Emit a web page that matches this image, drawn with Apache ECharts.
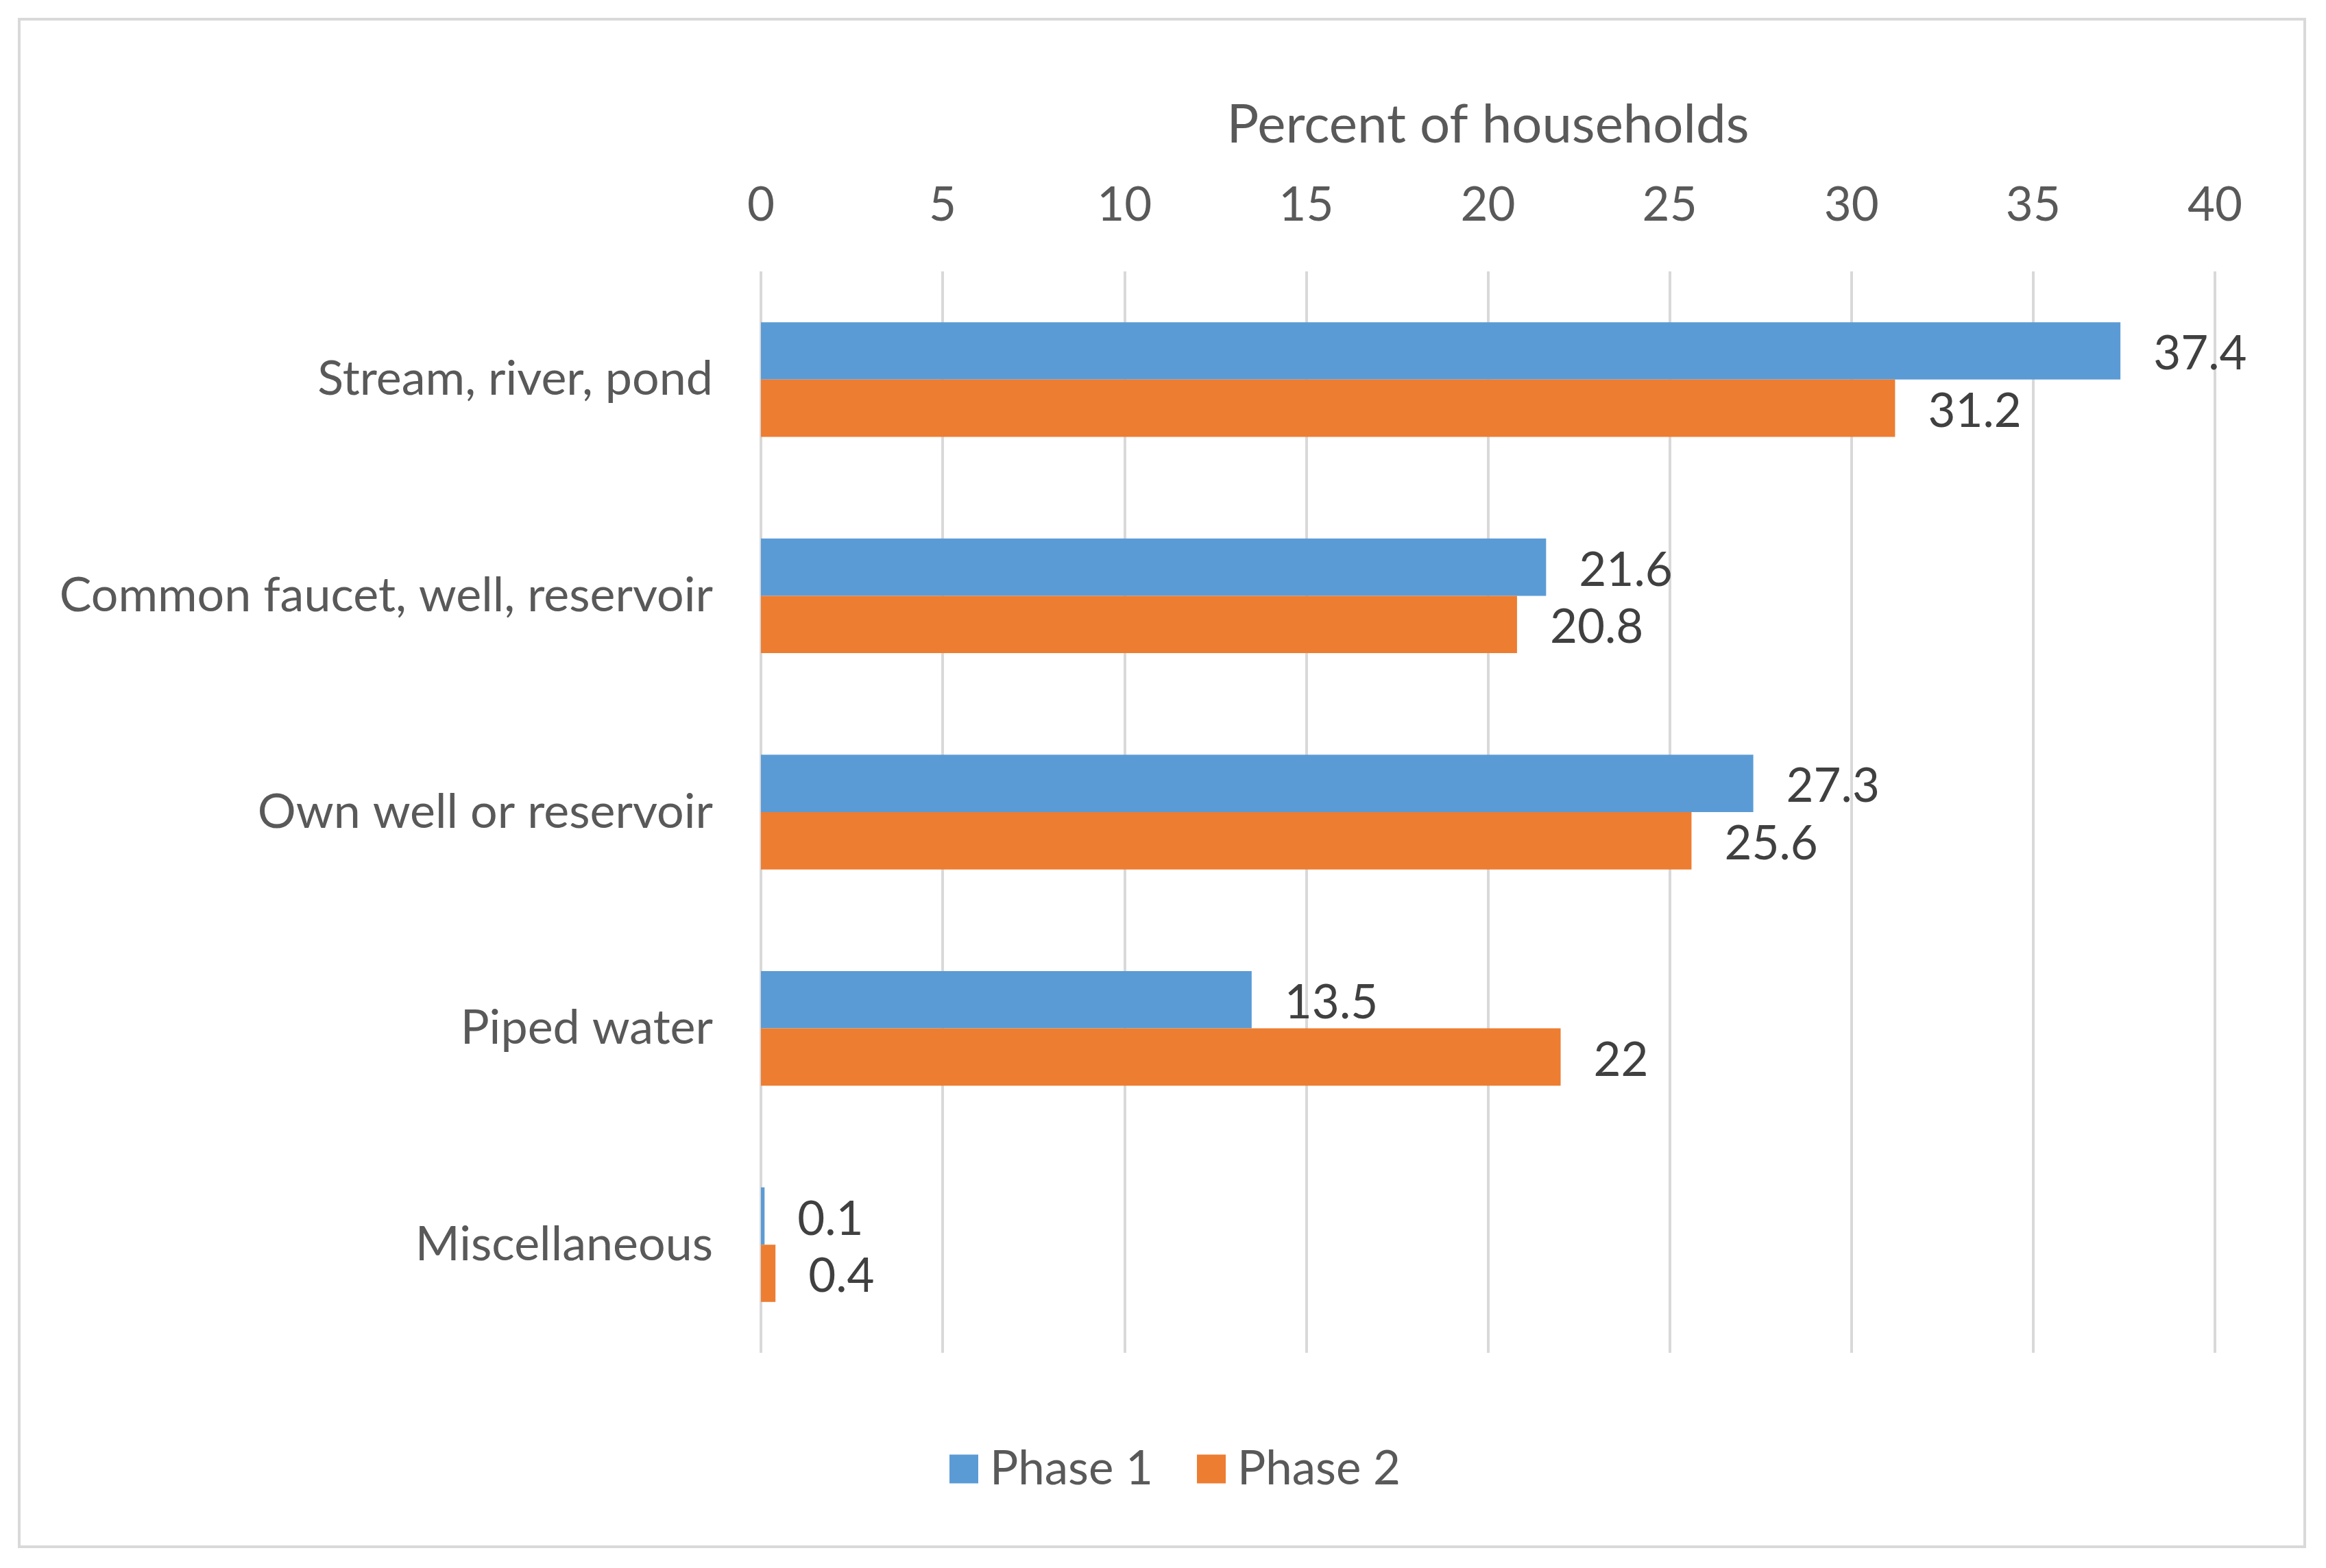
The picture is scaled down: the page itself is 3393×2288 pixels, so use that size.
<!DOCTYPE html>
<html>
<head>
<meta charset="utf-8">
<script src="https://cdn.jsdelivr.net/npm/echarts@6/dist/echarts.min.js"></script>
<style>
html,body{margin:0;padding:0;background:#fff;}
#chart{width:3393px;height:2288px;}
</style>
</head>
<body>
<div id="chart"></div>
<script>
const categories = ["Stream, river, pond", "Common faucet, well, reservoir", "Own well or reservoir", "Piped water", "Miscellaneous"];
const phase1 = [37.4, 21.6, 27.3, 13.5, 0.1];
const phase2 = [31.2, 20.8, 25.6, 22, 0.4];
const xTicks = { min: 0, max: 40, interval: 5 };

const FONT = "Lato";
const chart = echarts.init(document.getElementById('chart'), null, { renderer: 'canvas' });

const labelStyle = {
  show: true,
  position: 'right',
  distance: 48,
  offset: [0, 5],
  color: '#404040',
  fontFamily: FONT,
  fontSize: 69
};

chart.setOption({
  animation: false,
  backgroundColor: '#ffffff',
  graphic: [{
    type: 'rect',
    shape: { x: 28, y: 28, width: 3334, height: 2229 },
    style: { fill: 'none', stroke: '#d9d9d9', lineWidth: 4 },
    silent: true
  }],
  grid: { left: 1110, right: 162, top: 396, bottom: 314, containLabel: false },
  legend: {
    data: ['Phase 1', 'Phase 2'],
    left: 1380,
    top: 2104,
    itemWidth: 42,
    itemHeight: 42,
    itemGap: 64,
    icon: 'rect',
    textStyle: { color: '#595959', fontFamily: FONT, fontSize: 69, padding: [0, 0, 0, 12] }
  },
  xAxis: {
    type: 'value',
    position: 'top',
    min: xTicks.min,
    max: xTicks.max,
    interval: xTicks.interval,
    name: 'Percent of households',
    nameLocation: 'middle',
    nameGap: 174,
    nameTextStyle: { color: '#595959', fontFamily: FONT, fontSize: 78 },
    axisLine: { show: false },
    axisTick: { show: false },
    axisLabel: { color: '#595959', fontFamily: FONT, fontSize: 69, margin: 62 },
    splitLine: { show: true, lineStyle: { color: '#d9d9d9', width: 4 } }
  },
  yAxis: {
    type: 'category',
    data: categories,
    inverse: true,
    axisLine: { show: false },
    axisTick: { show: false },
    axisLabel: { color: '#595959', fontFamily: FONT, fontSize: 70, margin: 70 }
  },
  series: [
    {
      name: 'Phase 1',
      type: 'bar',
      data: phase1,
      barGap: '0%',
      barCategoryGap: '47%',
      itemStyle: { color: '#5b9bd5' },
      label: labelStyle
    },
    {
      name: 'Phase 2',
      type: 'bar',
      data: phase2,
      barGap: '0%',
      barCategoryGap: '47%',
      itemStyle: { color: '#ed7d31' },
      label: labelStyle
    }
  ]
});
</script>
</body>
</html>
